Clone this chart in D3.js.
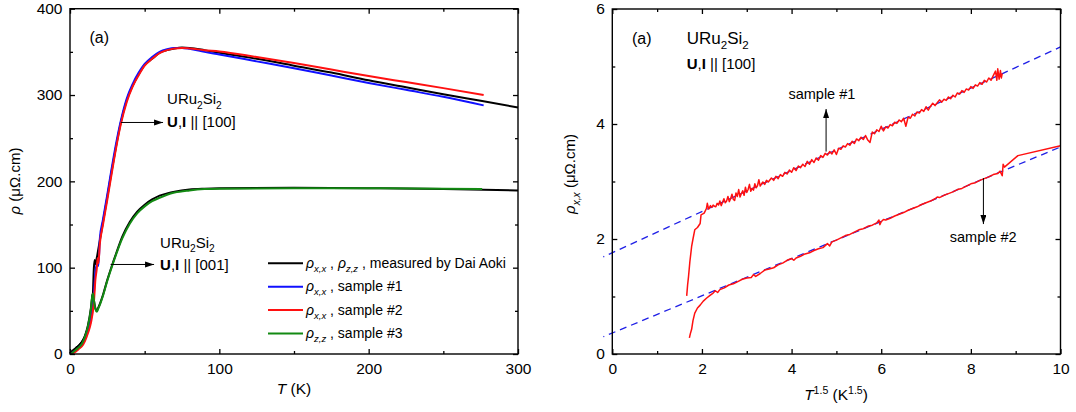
<!DOCTYPE html>
<html>
<head>
<meta charset="utf-8">
<script src="https://cdn.jsdelivr.net/npm/d3@7"></script>
<style>
  body { margin: 0; background: #fff; }
  svg { display: block; }
  text { font-family: "Liberation Sans", Arial, sans-serif; fill: #000; }
</style>
</head>
<body>
<svg id="chart" width="1076" height="412"></svg>
<script>
// ---- left panel: rho(T) ----
const T_aokiXX   = [0, 2, 4, 6, 8, 10, 12, 14, 15, 16, 16.5, 17, 18, 20, 22, 25, 28, 31, 34, 38, 42, 46, 50, 55, 60, 65, 70, 75, 80, 90, 100, 125, 150, 175, 200, 225, 250, 276, 300];
const rho_aokiXX = [1, 4, 7, 10, 14, 20, 30, 42, 55, 100, 109, 104, 112, 132, 152, 182, 213, 242, 268, 294, 311, 324, 335, 342, 349, 352, 354, 355, 354.5, 352, 349, 342, 334, 326, 317, 309, 301, 293, 285.5];

const T_s1   = [0, 2, 4, 6, 8, 10, 12, 14, 16, 17, 18, 19, 20, 22, 25, 28, 31, 34, 38, 42, 46, 50, 55, 60, 65, 70, 75, 80, 90, 100, 125, 150, 175, 200, 225, 250, 277];
const rho_s1 = [0.5, 2, 4, 7, 11, 17, 27, 40, 70, 95, 104, 102, 134, 155, 185, 216, 245, 270, 296, 313, 326, 336, 344, 350, 353, 354.5, 354.5, 353.5, 350, 347, 339, 331, 322.5, 314, 306, 298, 288];

const T_s2   = [0, 2, 4, 6, 8, 10, 12, 14, 16, 17, 18, 18.5, 19, 20, 22, 25, 28, 31, 34, 38, 42, 46, 50, 55, 60, 65, 70, 75, 80, 90, 100, 125, 150, 175, 200, 225, 250, 277];
const rho_s2 = [0, 1, 3, 6, 9, 15, 24, 36, 60, 86, 100, 111, 105, 128, 149, 179, 210, 240, 266, 292, 310, 323, 334, 342, 348.5, 352, 354, 354.5, 354, 352, 350.5, 344, 337, 329.5, 322, 315, 308, 300];

const T_aokiZZ   = [0, 2, 4, 6, 8, 10, 12, 14, 15, 15.5, 16, 17, 18, 19, 20, 22, 25, 28, 31, 35, 40, 45, 50, 55, 60, 65, 70, 80, 90, 100, 150, 200, 250, 300];
const rho_aokiZZ = [1, 4, 7, 10, 14, 21, 33, 53, 68, 71, 63, 53, 50, 54, 58, 68, 86, 102, 117, 136, 153, 165, 173, 179, 183.5, 186, 188, 190.5, 191.5, 192, 192.5, 192, 191, 189.5];

const T_s3   = [0, 2, 4, 6, 8, 10, 12, 14, 15, 15.5, 16, 17, 18, 19, 20, 22, 25, 28, 31, 35, 40, 45, 50, 55, 60, 65, 70, 80, 90, 100, 150, 200, 250, 276];
const rho_s3 = [0, 2, 5, 8, 12, 20, 32, 52, 68, 70, 62, 52, 49, 53, 57, 67, 85, 101, 116, 134, 151, 163, 171, 177, 181, 184.5, 187, 189.5, 191, 191.5, 192, 192, 191.5, 191];

const leftSeries = [
  { T: T_aokiXX, rho: rho_aokiXX, color: "#000000" },
  { T: T_aokiZZ, rho: rho_aokiZZ, color: "#000000" },
  { T: T_s1, rho: rho_s1, color: "#1010ff" },
  { T: T_s2, rho: rho_s2, color: "#ff1010" },
  { T: T_s3, rho: rho_s3, color: "#138a13" }
];

const legendColors = ["#000000", "#1010ff", "#ff1010", "#138a13"];
const legendLabels = [
  [["ρ", "i"], ["x,x", "sub"], [" , "], ["ρ", "i"], ["z,z", "sub"], [" , measured by Dai Aoki"]],
  [["ρ", "i"], ["x,x", "sub"], [" , sample #1"]],
  [["ρ", "i"], ["x,x", "sub"], [" , sample #2"]],
  [["ρ", "i"], ["z,z", "sub"], [" , sample #3"]]
];

const leftXTicks = [0, 100, 200, 300];
const leftXMinor = [50, 150, 250];
const leftYTicks = [0, 100, 200, 300, 400];
const leftYMinor = [50, 150, 250, 350];

// ---- right panel: rho_xx vs T^1.5 ----
const x_s1 = [1.66, 1.68, 1.70, 1.73, 1.77, 1.80, 1.84, 1.90, 1.96, 1.98, 2.05, 2.10, 2.12, 2.15, 2.19,
  2.22, 2.25, 2.28, 2.31, 2.34, 2.37, 2.40, 2.43, 2.46, 2.49, 2.52, 2.55, 2.58, 2.61, 2.64, 2.67, 2.70, 2.73, 2.76, 2.79,
  2.82, 2.85, 2.88, 2.91, 2.94, 2.97, 3.00, 3.03, 3.06, 3.09, 3.12, 3.15, 3.18, 3.21, 3.24, 3.27, 3.30, 3.33, 3.36, 3.40, 3.44, 3.48,
  3.55, 3.60, 3.65, 3.70, 3.75, 3.80, 3.85, 3.90, 3.95, 4.00, 4.05, 4.10, 4.15, 4.20, 4.25, 4.30, 4.35, 4.40, 4.45, 4.50,
  4.55, 4.60, 4.65, 4.70, 4.75, 4.80, 4.85, 4.90, 4.95, 5.00, 5.05, 5.10, 5.15, 5.20, 5.25, 5.30, 5.35, 5.40, 5.45, 5.50,
  5.55, 5.60, 5.65, 5.70, 5.75, 5.80, 5.85, 5.90, 5.95, 6.00, 6.05, 6.10, 6.15, 6.20, 6.25, 6.30, 6.35, 6.40, 6.45, 6.50,
  6.55, 6.60, 6.65, 6.70, 6.75, 6.80, 6.85, 6.90, 6.95, 7.00, 7.05, 7.10, 7.15, 7.20, 7.25, 7.30, 7.35, 7.40, 7.45, 7.50,
  7.55, 7.60, 7.65, 7.70, 7.75, 7.80, 7.85, 7.90, 7.95, 8.00, 8.05, 8.10, 8.15, 8.20, 8.25, 8.30, 8.35, 8.40, 8.45, 8.50,
  8.55, 8.58, 8.60, 8.63, 8.66, 8.68, 8.70];
const y_s1 = [1.01, 1.20, 1.34, 1.60, 1.87, 2.00, 2.16, 2.20, 2.27, 2.42, 2.45, 2.53, 2.62, 2.52, 2.58,
  2.55, 2.59, 2.57, 2.56, 2.62, 2.59, 2.66, 2.58, 2.64, 2.70, 2.63, 2.66, 2.74, 2.65, 2.70, 2.78, 2.69, 2.67, 2.80, 2.74,
  2.86, 2.73, 2.79, 2.84, 2.76, 2.90, 2.81, 2.86, 2.95, 2.83, 2.88, 2.85, 2.96, 2.89, 2.93, 3.03, 2.92, 2.96, 2.99, 2.95, 3.02, 2.99,
  3.06, 3.02, 3.09, 3.05, 3.12, 3.09, 3.16, 3.13, 3.20, 3.16, 3.24, 3.19, 3.27, 3.24, 3.30, 3.26, 3.35, 3.30, 3.38, 3.33,
  3.41, 3.37, 3.45, 3.42, 3.49, 3.46, 3.52, 3.48, 3.55, 3.47, 3.58, 3.56, 3.62, 3.60, 3.66, 3.63, 3.70, 3.66, 3.74, 3.71,
  3.77, 3.73, 3.80, 3.72, 3.68, 3.86, 3.83, 3.90, 3.87, 3.96, 3.88, 3.95, 3.93, 3.99, 3.97, 4.03, 4.01, 4.07, 4.04, 4.10,
  3.96, 4.12, 4.10, 4.17, 4.14, 4.21, 4.19, 4.25, 4.22, 4.30, 4.24, 4.31, 4.36, 4.32, 4.37, 4.42, 4.38, 4.43, 4.41, 4.47,
  4.44, 4.50, 4.47, 4.54, 4.52, 4.58, 4.55, 4.61, 4.59, 4.65, 4.62, 4.68, 4.66, 4.72, 4.69, 4.76, 4.73, 4.80, 4.76, 4.84,
  4.92, 4.76, 4.96, 4.78, 4.93, 4.80, 4.88];

const x_s2 = [1.72, 1.74, 1.77, 1.80, 1.84, 1.90, 1.96, 2.03, 2.10, 2.18, 2.25, 2.30, 2.35, 2.40, 2.50, 2.60, 2.70, 2.80, 2.90, 3.00, 3.10, 3.15, 3.20, 3.30, 3.40, 3.50, 3.60, 3.70, 3.80, 3.90, 4.00, 4.05, 4.10, 4.20, 4.30, 4.40, 4.50, 4.60, 4.70, 4.80, 4.85, 4.90, 5.00, 5.10, 5.20, 5.30, 5.40, 5.50, 5.60, 5.70, 5.80, 5.90, 5.95, 5.97, 6.00, 6.05, 6.10, 6.20, 6.30, 6.40, 6.50, 6.60, 6.70, 6.80, 6.90, 7.00, 7.10, 7.20, 7.25, 7.30, 7.40, 7.50, 7.60, 7.70, 7.80, 7.90, 8.00, 8.10, 8.20, 8.30, 8.40, 8.50, 8.60, 8.65, 8.70, 8.72, 8.75, 9.05, 10.0];
const y_s2 = [0.28, 0.35, 0.43, 0.58, 0.71, 0.80, 0.85, 0.92, 0.97, 1.02, 1.06, 1.10, 1.07, 1.12, 1.15, 1.20, 1.22, 1.26, 1.30, 1.32, 1.33, 1.38, 1.35, 1.40, 1.46, 1.48, 1.50, 1.55, 1.58, 1.63, 1.66, 1.63, 1.67, 1.70, 1.74, 1.76, 1.80, 1.83, 1.85, 1.92, 1.88, 1.95, 1.98, 2.02, 2.06, 2.08, 2.12, 2.16, 2.18, 2.22, 2.24, 2.28, 2.33, 2.25, 2.30, 2.34, 2.33, 2.36, 2.40, 2.43, 2.46, 2.50, 2.53, 2.56, 2.60, 2.63, 2.66, 2.70, 2.73, 2.72, 2.76, 2.79, 2.82, 2.86, 2.88, 2.92, 2.96, 2.98, 3.02, 3.05, 3.08, 3.12, 3.14, 3.18, 3.10, 3.30, 3.25, 3.45, 3.62];

// dashed fits, endpoints
const fitX  = [-0.2, 10];
const fit1Y = [1.69, 5.34];
const fit2Y = [0.30, 3.60];

const rightXTicks = [0, 2, 4, 6, 8, 10];
const rightXMinor = [1, 3, 5, 7, 9];
const rightYTicks = [0, 2, 4, 6];
const rightYMinor = [1, 3, 5];

const svg = d3.select("#chart");
const translate = (x, y) => `translate(${x}, ${y})`;

// write text with italic / sub / super / bold parts
function richText(sel, parts, size) {
  const subSize = size * 0.68;
  let shift = 0;
  parts.forEach(([t, kind]) => {
    const span = sel.append("tspan").text(t);
    let target = 0;
    if (kind === "sub" || kind === "subn") target = size * 0.3;
    if (kind === "sup") target = -size * 0.4;
    span.attr("dy", target - shift);
    shift = target;
    if (kind === "sub" || kind === "sup" || kind === "subn") span.attr("font-size", subSize);
    if (kind === "sub" || kind === "i") span.attr("font-style", "italic");
    if (kind === "b") span.attr("font-weight", "bold");
  });
  return sel;
}

function drawAxes(x, y, xTicks, xMinor, yTicks, yMinor) {
  const [x0, x1] = x.range();
  const [y0, y1] = y.range();
  const style = g => {
    g.select(".domain").remove();
    g.selectAll("line").attr("stroke-width", 1.3);
    g.attr("font-size", 15.5).attr("font-family", '"Liberation Sans", Arial, sans-serif');
  };
  svg.append("g").attr("transform", translate(0, y0))
    .call(d3.axisBottom(x).tickValues(xTicks).tickSize(-5).tickPadding(9).tickFormat(d3.format("d"))).call(style);
  svg.append("g").attr("transform", translate(0, y0))
    .call(d3.axisBottom(x).tickValues(xMinor).tickSize(-3).tickFormat("")).call(style);
  svg.append("g").attr("transform", translate(0, y1))
    .call(d3.axisTop(x).tickValues(xTicks).tickSize(-5).tickFormat("")).call(style);
  svg.append("g").attr("transform", translate(0, y1))
    .call(d3.axisTop(x).tickValues(xMinor).tickSize(-3).tickFormat("")).call(style);
  svg.append("g").attr("transform", translate(x0, 0))
    .call(d3.axisLeft(y).tickValues(yTicks).tickSize(-5).tickPadding(7.5).tickFormat(d3.format("d"))).call(style);
  svg.append("g").attr("transform", translate(x0, 0))
    .call(d3.axisLeft(y).tickValues(yMinor).tickSize(-3).tickFormat("")).call(style);
  svg.append("g").attr("transform", translate(x1, 0))
    .call(d3.axisRight(y).tickValues(yTicks).tickSize(-5).tickFormat("")).call(style);
  svg.append("g").attr("transform", translate(x1, 0))
    .call(d3.axisRight(y).tickValues(yMinor).tickSize(-3).tickFormat("")).call(style);
  svg.append("rect")
    .attr("x", x0).attr("y", y1)
    .attr("width", x1 - x0).attr("height", y0 - y1)
    .attr("fill", "none").attr("stroke", "#000").attr("stroke-width", 1.4);
}

// arrow head
svg.append("defs").append("marker")
  .attr("id", "head").attr("markerUnits", "userSpaceOnUse")
  .attr("markerWidth", 10).attr("markerHeight", 8)
  .attr("refX", 9).attr("refY", 3).attr("orient", "auto")
  .append("path").attr("d", "M0,0 L9,3 L0,6 Z").attr("fill", "#000");

function arrow(x1, y1, x2, y2) {
  svg.append("line")
    .attr("x1", x1).attr("y1", y1).attr("x2", x2).attr("y2", y2)
    .attr("stroke", "#000").attr("stroke-width", 1)
    .attr("marker-end", "url(#head)");
}

// ================= LEFT PANEL =================
const xL = d3.scaleLinear().domain([0, 300]).range([70, 518]);
const yL = d3.scaleLinear().domain([0, 400]).range([354, 8.7]);

const lineL = d3.line().x(d => xL(d[0])).y(d => yL(d[1])).curve(d3.curveMonotoneX);
leftSeries.forEach(s => {
  svg.append("path")
    .datum(d3.zip(s.T, s.rho))
    .attr("d", lineL)
    .attr("fill", "none")
    .attr("stroke", s.color)
    .attr("stroke-width", 2)
    .attr("stroke-linejoin", "round");
});

drawAxes(xL, yL, leftXTicks, leftXMinor, leftYTicks, leftYMinor);

// legend
const legend = svg.append("g");
legendLabels.forEach((parts, i) => {
  const ly = 263.3 + i * 23.4;
  legend.append("line")
    .attr("x1", 268).attr("x2", 303).attr("y1", ly).attr("y2", ly)
    .attr("stroke", legendColors[i]).attr("stroke-width", 2);
  richText(legend.append("text").attr("x", 306).attr("y", ly + 4.5).attr("font-size", 14), parts, 14);
});

// annotations
svg.append("text").attr("x", xL(13)).attr("y", yL(360)).attr("font-size", 16).text("(a)");

richText(svg.append("text").attr("x", xL(65)).attr("y", yL(289.6)).attr("font-size", 15),
  [["URu"], ["2", "subn"], ["Si"], ["2", "subn"]], 15);
richText(svg.append("text").attr("x", xL(65)).attr("y", yL(263)).attr("font-size", 15),
  [["U", "b"], [","], ["I", "b"], [" || [100]"]], 15);
arrow(xL(34.2), yL(268.2), xL(62.3), yL(268.2));

richText(svg.append("text").attr("x", xL(60.3)).attr("y", yL(122.8)).attr("font-size", 15),
  [["URu"], ["2", "subn"], ["Si"], ["2", "subn"]], 15);
richText(svg.append("text").attr("x", xL(60.3)).attr("y", yL(97.3)).attr("font-size", 15),
  [["U", "b"], [","], ["I", "b"], [" || [001]"]], 15);
arrow(xL(27.2), yL(103.7), xL(56.3), yL(103.7));

// axis titles
richText(svg.append("text").attr("x", 294).attr("y", 394).attr("text-anchor", "middle").attr("font-size", 15.5),
  [["T", "i"], [" (K)"]], 15.5);
richText(svg.append("text").attr("transform", translate(20, 181) + " rotate(-90)").attr("text-anchor", "middle").attr("font-size", 15),
  [["ρ", "i"], [" (μΩ.cm)"]], 15);

// ================= RIGHT PANEL =================
const xR = d3.scaleLinear().domain([0, 10]).range([612.3, 1060.5]);
const yR = d3.scaleLinear().domain([0, 6]).range([354, 9]);

const lineR = d3.line().x(d => xR(d[0])).y(d => yR(d[1]));

[fit1Y, fit2Y].forEach(fy => {
  svg.append("path")
    .datum(d3.zip(fitX, fy))
    .attr("d", lineR)
    .attr("fill", "none")
    .attr("stroke", "#1f1fe6")
    .attr("stroke-width", 1.3)
    .attr("stroke-dasharray", "7,5")
    .attr("stroke-dashoffset", 6);
});

[[x_s1, y_s1], [x_s2, y_s2]].forEach(([xs, ys]) => {
  svg.append("path")
    .datum(d3.zip(xs, ys))
    .attr("d", lineR)
    .attr("fill", "none")
    .attr("stroke", "#ff1010")
    .attr("stroke-width", 1.5)
    .attr("stroke-linejoin", "round");
});

drawAxes(xR, yR, rightXTicks, rightXMinor, rightYTicks, rightYMinor);

svg.append("text").attr("x", xR(0.44)).attr("y", yR(5.40)).attr("font-size", 16).text("(a)");
richText(svg.append("text").attr("x", xR(1.66)).attr("y", yR(5.40)).attr("font-size", 17),
  [["URu"], ["2", "subn"], ["Si"], ["2", "subn"]], 17);
richText(svg.append("text").attr("x", xR(1.66)).attr("y", yR(4.95)).attr("font-size", 15),
  [["U", "b"], [","], ["I", "b"], [" || [100]"]], 15);

svg.append("text").attr("x", xR(3.93)).attr("y", yR(4.43)).attr("font-size", 14.5).text("sample #1");
arrow(xR(4.77), yR(3.52), xR(4.77), yR(4.26));
svg.append("text").attr("x", xR(7.53)).attr("y", yR(1.95)).attr("font-size", 14.5).text("sample #2");
arrow(xR(8.28), yR(3.06), xR(8.28), yR(2.26));

// axis titles
richText(svg.append("text").attr("x", 836).attr("y", 400).attr("text-anchor", "middle").attr("font-size", 15.5),
  [["T", "i"], ["1.5", "sup"], [" (K"], ["1.5", "sup"], [")"]], 15.5);
richText(svg.append("text").attr("transform", translate(575, 174) + " rotate(-90)").attr("text-anchor", "middle").attr("font-size", 15),
  [["ρ", "i"], ["x,x", "sub"], ["   (μΩ.cm)"]], 15);
</script>
</body>
</html>
